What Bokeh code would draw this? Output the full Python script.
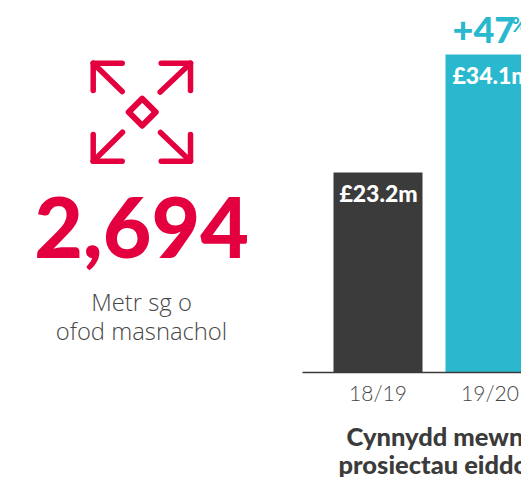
from bokeh.plotting import figure
from bokeh.models import Range1d, FixedTicker, LinearAxis
from bokeh.core.properties import value
from bokeh.embed import file_html
from bokeh.resources import INLINE

categories = ["18/19", "19/20"]
positions = [0, 1]
value_labels = ["£23.2m", "£34.1m"]
# heights as drawn in the picture (bars are not strictly to scale)
drawn_heights = [23.2, 36.9]
bar_colors = ["#3b3b3b", "#2ab8cf"]
stat_text = "2,694"
stat_caption = ["Metr sg o", "ofod masnachol"]
growth_text = "+47"
growth_unit = "%"
chart_title = ["Cynnydd mewn", "prosiectau eiddo"]

RED = "#e4003f"
TEAL = "#2ab8cf"
DARK = "#3b3b3b"
GREY = "#454545"
W, H = 521, 477
BASE = 372
PX_PER_UNIT = 8.62
SPACING = 112
X0 = 377.5

p = figure(width=W, height=H, output_backend="svg", toolbar_location=None,
           x_range=Range1d(-X0 / SPACING, (W - X0) / SPACING),
           y_range=Range1d((BASE - H) / PX_PER_UNIT, BASE / PX_PER_UNIT),
           min_border=0, outline_line_color=None,
           x_axis_location=None, y_axis_location=None)
p.grid.visible = False
p.background_fill_color = None
p.border_fill_color = None

p.vbar(x=positions, top=drawn_heights, bottom=0, width=89 / SPACING,
       fill_color=bar_colors, line_color=None)

ax = LinearAxis(ticker=FixedTicker(ticks=positions),
                major_label_overrides={i: c for i, c in zip(positions, categories)},
                fixed_location=0)
ax.bounds = ((302 - X0) / SPACING, (W - X0) / SPACING)
ax.axis_line_color = DARK
ax.axis_line_width = 1.5
ax.major_tick_line_color = None
ax.minor_tick_line_color = None
ax.major_label_text_font = "Lato Light"
ax.major_label_text_font_size = "21px"
ax.major_label_text_color = GREY
ax.major_label_standoff = 1
p.add_layout(ax, "below")

p.extra_x_ranges["px"] = Range1d(0, W)
p.extra_y_ranges["px"] = Range1d(H, 0)
arrows_x = [[121.7, 92.7, 92.7], [92.7, 121.7],
            [160.7, 190, 190], [190, 159.7],
            [92.7, 92.7, 121.7], [92.7, 122],
            [190, 190, 160.7], [190, 160]]
arrows_y = [[62.7, 62.7, 90], [62.7, 91],
            [62.7, 62.7, 90], [62.7, 91.5],
            [134, 160.7, 160.7], [160.7, 131.7],
            [134, 160.7, 160.7], [160.7, 132]]
p.multi_line(arrows_x, arrows_y, x_range_name="px", y_range_name="px",
             line_color=RED, line_width=5.5, line_cap="round", line_join="round")
cx, cy, r = 141.7, 111.7, 13.5
p.line([cx - r, cx, cx + r, cx, cx - r], [cy, cy - r, cy, cy + r, cy],
       x_range_name="px", y_range_name="px",
       line_color=RED, line_width=6, line_cap="round", line_join="round")


def lab(x, y, text, size, color, align="center", font="Lato", style="normal"):
    p.text(x=[x], y=[y - 0.375 * size], text=[text], x_range_name="px", y_range_name="px",
           text_font=value(font), text_font_size=f"{size}px", text_color=color,
           text_align=align, text_baseline="alphabetic", text_font_style=style)


lab(141, 258, stat_text, 84, RED, font="Lato Black")
lab(141, 310, stat_caption[0], 23.8, GREY, font="Open Sans Light")
lab(141, 339, stat_caption[1], 23.8, GREY, font="Open Sans Light")
lab(452, 43, growth_text, 36, TEAL, "left", font="Lato Black")
lab(511, 31, growth_unit, 20, TEAL, "left", font="Lato Black")
lab(378, 201, value_labels[0], 23, "white", font="Lato Black")
lab(452, 83, value_labels[1], 23, "white", "left", font="Lato Black")
lab(346, 445, chart_title[0], 25.5, DARK, "left", font="Lato Black")
lab(338, 473, chart_title[1], 25.5, DARK, "left", font="Lato Black")

open("out.html", "w").write(file_html(p, INLINE))
